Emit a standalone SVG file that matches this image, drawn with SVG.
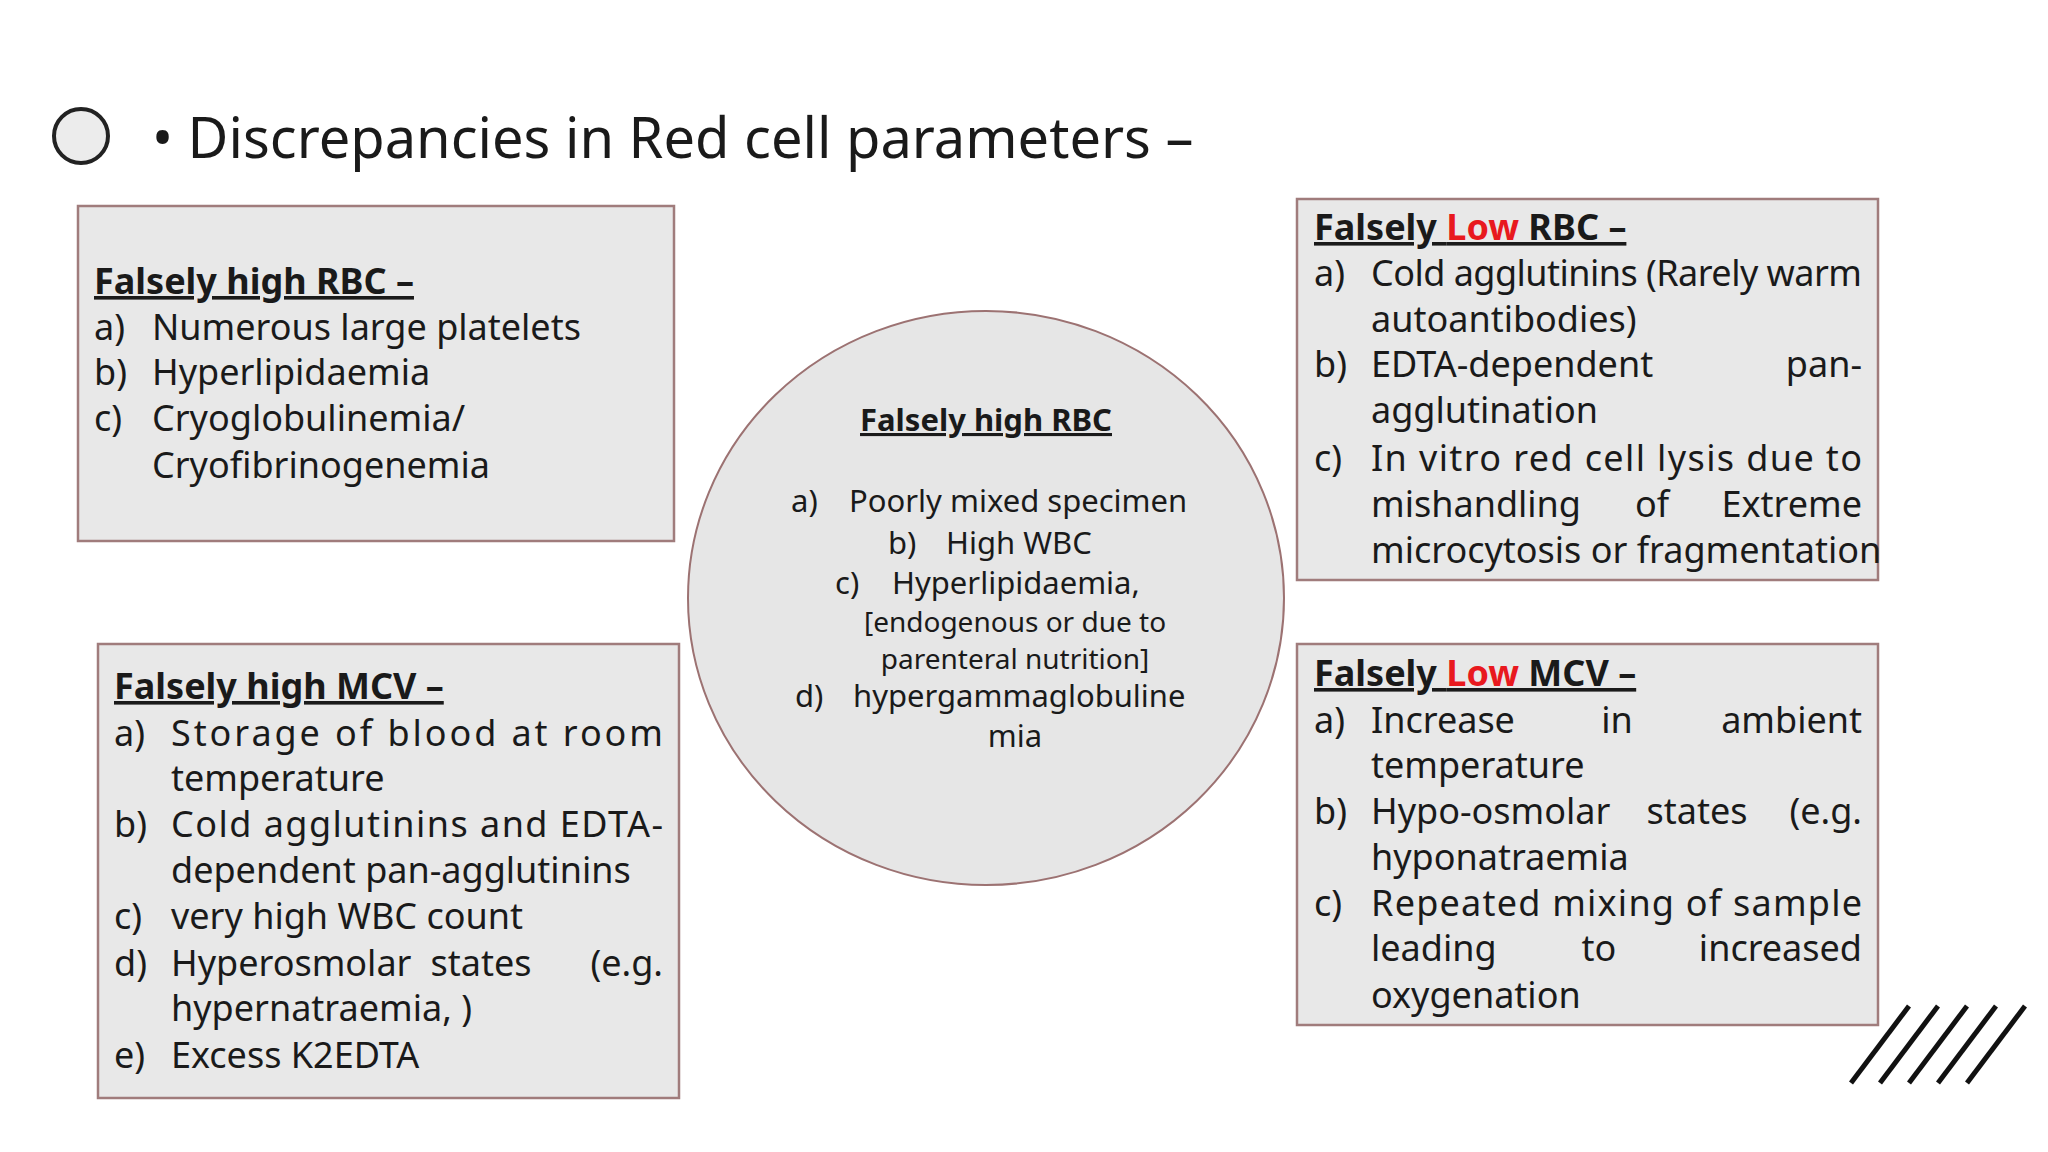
<svg xmlns="http://www.w3.org/2000/svg" width="2048" height="1152" viewBox="0 0 2048 1152">
<style>
text{font-family:"Noto Sans","Open Sans","Liberation Sans",sans-serif;fill:#1a1a1a}
.b{font-size:36px}
.h{font-size:36px;font-weight:bold;text-decoration:underline}
.c{font-size:31px}
.s{font-size:28px}
.box{fill:#e8e8e8;stroke:#a07c7c;stroke-width:2.5}
.e{text-anchor:end}
.m{text-anchor:middle}
.r{fill:#e8191e}
</style>
<rect width="2048" height="1152" fill="#fff"/>
<circle cx="81" cy="136" r="27" fill="#ececec" stroke="#222" stroke-width="4"/>
<text x="152" y="158" style="font-size:56px">• Discrepancies in Red cell parameters –</text>

<g id="box1">
<rect class="box" x="78" y="206" width="596" height="335"/>
<text class="h" x="94" y="294">Falsely high RBC –</text>
<text class="b" x="94" y="340">a)</text><text class="b" x="152" y="340">Numerous large platelets</text>
<text class="b" x="94" y="385">b)</text><text class="b" x="152" y="385">Hyperlipidaemia</text>
<text class="b" x="94" y="431">c)</text><text class="b" x="152" y="431">Cryoglobulinemia/</text>
<text class="b" x="152" y="478">Cryofibrinogenemia</text>
</g>

<g id="box2">
<rect class="box" x="1297" y="199" width="581" height="381"/>
<text class="h" x="1314" y="240">Falsely <tspan class="r">Low</tspan> RBC –</text>
<text class="b" x="1314" y="286">a)</text><text class="b" x="1371" y="286" textLength="491" lengthAdjust="spacing">Cold agglutinins (Rarely warm</text>
<text class="b" x="1371" y="332">autoantibodies)</text>
<text class="b" x="1314" y="377">b)</text><text class="b" x="1371" y="377">EDTA-dependent</text><text class="b e" x="1862" y="377">pan-</text>
<text class="b" x="1371" y="423">agglutination</text>
<text class="b" x="1314" y="471">c)</text><text class="b" x="1371" y="471" textLength="491" lengthAdjust="spacing">In vitro red cell lysis due to</text>
<text class="b" x="1371" y="517">mishandling</text><text class="b m" x="1652" y="517">of</text><text class="b e" x="1862" y="517">Extreme</text>
<text class="b" x="1371" y="563">microcytosis or fragmentation</text>
</g>

<g id="circle">
<ellipse cx="986" cy="598" rx="298" ry="287" fill="#e6e6e6" stroke="#9c7272" stroke-width="2"/>
<text class="c m" x="986" y="431" style="font-weight:bold;text-decoration:underline">Falsely high RBC</text>
<text class="c" x="791" y="512">a)</text><text class="c" x="849" y="512">Poorly mixed specimen</text>
<text class="c" x="888" y="554">b)</text><text class="c" x="946" y="554">High WBC</text>
<text class="c" x="835" y="594">c)</text><text class="c" x="892" y="594">Hyperlipidaemia,</text>
<text class="s m" x="1015" y="632">[endogenous or due to</text>
<text class="s m" x="1015" y="669">parenteral nutrition]</text>
<text class="c" x="795" y="707">d)</text><text class="c" x="853" y="707">hypergammaglobuline</text>
<text class="c m" x="1015" y="747">mia</text>
</g>

<g id="box3">
<rect class="box" x="98" y="644" width="581" height="454"/>
<text class="h" x="114" y="699">Falsely high MCV –</text>
<text class="b" x="114" y="746">a)</text><text class="b" x="171" y="746" textLength="492" lengthAdjust="spacing">Storage of blood at room</text>
<text class="b" x="171" y="791">temperature</text>
<text class="b" x="114" y="837">b)</text><text class="b" x="171" y="837" textLength="492" lengthAdjust="spacing">Cold agglutinins and EDTA-</text>
<text class="b" x="171" y="883">dependent pan-agglutinins</text>
<text class="b" x="114" y="929">c)</text><text class="b" x="171" y="929">very high WBC count</text>
<text class="b" x="114" y="976">d)</text><text class="b" x="171" y="976">Hyperosmolar</text><text class="b m" x="481" y="976">states</text><text class="b e" x="663" y="976">(e.g.</text>
<text class="b" x="171" y="1021">hypernatraemia, )</text>
<text class="b" x="114" y="1068">e)</text><text class="b" x="171" y="1068">Excess K2EDTA</text>
</g>

<g id="box4">
<rect class="box" x="1297" y="644" width="581" height="381"/>
<text class="h" x="1314" y="686">Falsely <tspan class="r">Low</tspan> MCV –</text>
<text class="b" x="1314" y="733">a)</text><text class="b" x="1371" y="733">Increase</text><text class="b m" x="1617" y="733">in</text><text class="b e" x="1862" y="733">ambient</text>
<text class="b" x="1371" y="778">temperature</text>
<text class="b" x="1314" y="824">b)</text><text class="b" x="1371" y="824">Hypo-osmolar</text><text class="b m" x="1697" y="824">states</text><text class="b e" x="1862" y="824">(e.g.</text>
<text class="b" x="1371" y="870">hyponatraemia</text>
<text class="b" x="1314" y="916">c)</text><text class="b" x="1371" y="916" textLength="491" lengthAdjust="spacing">Repeated mixing of sample</text>
<text class="b" x="1371" y="961">leading</text><text class="b m" x="1599" y="961">to</text><text class="b e" x="1862" y="961">increased</text>
<text class="b" x="1371" y="1008">oxygenation</text>
</g>

<g id="slashes" stroke="#111" stroke-width="5">
<line x1="1851" y1="1083" x2="1909" y2="1006"/>
<line x1="1880" y1="1083" x2="1938" y2="1006"/>
<line x1="1909" y1="1083" x2="1967" y2="1006"/>
<line x1="1938" y1="1083" x2="1996" y2="1006"/>
<line x1="1967" y1="1083" x2="2025" y2="1006"/>
</g>
</svg>
